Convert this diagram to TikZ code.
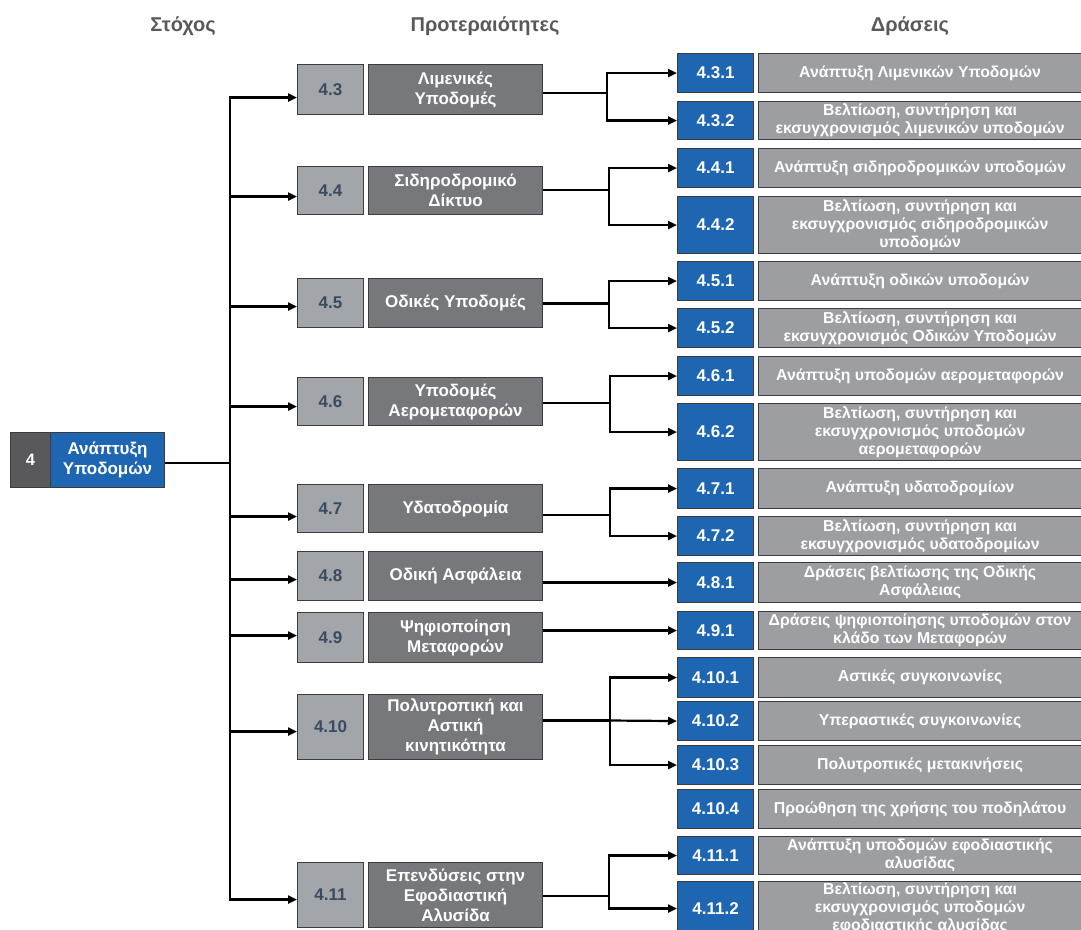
\documentclass[tikz,border=0pt]{standalone}
\usepackage{fontspec}
\setmainfont{Liberation Sans}
\usetikzlibrary{arrows.meta}
\definecolor{blu}{HTML}{1E66B2}
\definecolor{agray}{HTML}{9C9EA1}
\definecolor{pgray}{HTML}{77787B}
\definecolor{ngray}{HTML}{A2A5A9}
\definecolor{ntext}{HTML}{3B4B5F}
\definecolor{dgray}{HTML}{59595C}
\definecolor{bord}{HTML}{3C3C3C}
\definecolor{head}{HTML}{595959}
\tikzset{
  bx/.style={draw=bord, line width=1.1pt, inner sep=0pt, anchor=north west, align=center, text=white},
  gnum/.style={bx, fill=dgray, minimum width=40pt, minimum height=55pt, font=\bfseries\fontsize{16.5}{19}\selectfont},
  gtxt/.style={bx, fill=blu, minimum width=114pt, minimum height=55pt, font=\bfseries\fontsize{17}{20}\selectfont},
  pnum/.style={bx, fill=ngray, text=ntext, minimum width=66pt, font=\bfseries\fontsize{17}{19}\selectfont},
  ptxt/.style={bx, fill=pgray, minimum width=174pt, font=\bfseries\fontsize{17}{20}\selectfont},
  anum/.style={bx, fill=blu, minimum width=76pt, font=\bfseries\fontsize{17}{19}\selectfont},
  atxt/.style={bx, fill=agray, minimum width=323pt, font=\bfseries\fontsize{15.8}{18}\selectfont},
  hd/.style={text=head, font=\bfseries\fontsize{20}{24}\selectfont},
  ln/.style={line width=2.2pt, black},
  arr/.style={line width=2.2pt, black, -{Triangle[length=9pt,width=8pt]}},
}
\begin{document}
\begin{tikzpicture}[x=1pt,y=-1pt]
\clip (0,0) rectangle (1081,929);
\fill[white] (0,0) rectangle (1081,929);
% headers
\node[hd] (h1) at (183,26) {Στόχος};
\node[hd] (h2) at (485,26) {Προτεραιότητες};
\node[hd] (h3) at (910,26) {Δράσεις};
% goal
\node[gnum] (gn) at (10,432) {4};
\node[gtxt] (gt) at (50,432) {Ανάπτυξη\\Υποδομών};
% priorities
\node[pnum, minimum height=50pt] (p43n) at (297,64) {4.3};
\node[ptxt, minimum height=50pt] (p43t) at (368,64) {Λιμενικές\\Υποδομές};
\node[pnum, minimum height=48pt] (p44n) at (297,166) {4.4};
\node[ptxt, minimum height=48pt] (p44t) at (368,166) {Σιδηροδρομικό\\Δίκτυο};
\node[pnum, minimum height=49pt] (p45n) at (297,278) {4.5};
\node[ptxt, minimum height=49pt] (p45t) at (368,278) {Οδικές Υποδομές};
\node[pnum, minimum height=48pt] (p46n) at (297,377) {4.6};
\node[ptxt, minimum height=48pt] (p46t) at (368,377) {Υποδομές\\Αερομεταφορών};
\node[pnum, minimum height=48pt] (p47n) at (297,484) {4.7};
\node[ptxt, minimum height=48pt] (p47t) at (368,484) {Υδατοδρομία};
\node[pnum, minimum height=49pt] (p48n) at (297,551) {4.8};
\node[ptxt, minimum height=49pt] (p48t) at (368,551) {Οδική Ασφάλεια};
\node[pnum, minimum height=50pt] (p49n) at (297,612) {4.9};
\node[ptxt, minimum height=50pt] (p49t) at (368,612) {Ψηφιοποίηση\\Μεταφορών};
\node[pnum, minimum height=65pt] (p410n) at (297,694) {4.10};
\node[ptxt, minimum height=65pt] (p410t) at (368,694) {Πολυτροπική και\\Αστική\\κινητικότητα};
\node[pnum, minimum height=65pt] (p411n) at (297,862) {4.11};
\node[ptxt, minimum height=65pt] (p411t) at (368,862) {Επενδύσεις στην\\Εφοδιαστική\\Αλυσίδα};
% actions
\node[anum, minimum height=39pt] (a431n) at (677,53) {4.3.1};
\node[atxt, minimum height=39pt] (a431t) at (758,53) {Ανάπτυξη Λιμενικών Υποδομών};
\node[anum, minimum height=38pt] (a432n) at (677,101) {4.3.2};
\node[atxt, minimum height=38pt] (a432t) at (758,101) {Βελτίωση, συντήρηση και\\εκσυγχρονισμός λιμενικών υποδομών};
\node[anum, minimum height=39pt] (a441n) at (677,148) {4.4.1};
\node[atxt, minimum height=39pt] (a441t) at (758,148) {Ανάπτυξη σιδηροδρομικών υποδομών};
\node[anum, minimum height=57pt] (a442n) at (677,196) {4.4.2};
\node[atxt, minimum height=57pt] (a442t) at (758,196) {Βελτίωση, συντήρηση και\\εκσυγχρονισμός σιδηροδρομικών\\υποδομών};
\node[anum, minimum height=39pt] (a451n) at (677,261) {4.5.1};
\node[atxt, minimum height=39pt] (a451t) at (758,261) {Ανάπτυξη οδικών υποδομών};
\node[anum, minimum height=39pt] (a452n) at (677,308) {4.5.2};
\node[atxt, minimum height=39pt] (a452t) at (758,308) {Βελτίωση, συντήρηση και\\εκσυγχρονισμός Οδικών Υποδομών};
\node[anum, minimum height=39pt] (a461n) at (677,356) {4.6.1};
\node[atxt, minimum height=39pt] (a461t) at (758,356) {Ανάπτυξη υποδομών αερομεταφορών};
\node[anum, minimum height=57pt] (a462n) at (677,403) {4.6.2};
\node[atxt, minimum height=57pt] (a462t) at (758,403) {Βελτίωση, συντήρηση και\\εκσυγχρονισμός υποδομών\\αερομεταφορών};
\node[anum, minimum height=40pt] (a471n) at (677,468) {4.7.1};
\node[atxt, minimum height=40pt] (a471t) at (758,468) {Ανάπτυξη υδατοδρομίων};
\node[anum, minimum height=39pt] (a472n) at (677,516) {4.7.2};
\node[atxt, minimum height=39pt] (a472t) at (758,516) {Βελτίωση, συντήρηση και\\εκσυγχρονισμός υδατοδρομίων};
\node[anum, minimum height=40pt] (a481n) at (677,562) {4.8.1};
\node[atxt, minimum height=40pt] (a481t) at (758,562) {Δράσεις βελτίωσης της Οδικής\\Ασφάλειας};
\node[anum, minimum height=38pt] (a491n) at (677,611) {4.9.1};
\node[atxt, minimum height=38pt] (a491t) at (758,611) {Δράσεις ψηφιοποίησης υποδομών στον\\κλάδο των Μεταφορών};
\node[anum, minimum height=40pt] (a4101n) at (677,657) {4.10.1};
\node[atxt, minimum height=40pt] (a4101t) at (758,657) {Αστικές συγκοινωνίες};
\node[anum, minimum height=39pt] (a4102n) at (677,701) {4.10.2};
\node[atxt, minimum height=39pt] (a4102t) at (758,701) {Υπεραστικές συγκοινωνίες};
\node[anum, minimum height=39pt] (a4103n) at (677,745) {4.10.3};
\node[atxt, minimum height=39pt] (a4103t) at (758,745) {Πολυτροπικές μετακινήσεις};
\node[anum, minimum height=39pt] (a4104n) at (677,789) {4.10.4};
\node[atxt, minimum height=39pt] (a4104t) at (758,789) {Προώθηση της χρήσης του ποδηλάτου};
\node[anum, minimum height=38pt] (a4111n) at (677,836) {4.11.1};
\node[atxt, minimum height=38pt] (a4111t) at (758,836) {Ανάπτυξη υποδομών εφοδιαστικής\\αλυσίδας};
\node[anum, minimum height=54pt] (a4112n) at (677,881) {4.11.2};
\node[atxt, minimum height=54pt] (a4112t) at (758,881) {Βελτίωση, συντήρηση και\\εκσυγχρονισμός υποδομών\\εφοδιαστικής αλυσίδας};
% main trunk
\coordinate (mt) at (230,463);
\draw[ln] (gt.east |- mt) -- (mt);
\draw[arr] (mt) |- ([yshift=-8pt]p43n.west);
\draw[arr] (mt) |- ([yshift=-6pt]p44n.west);
\draw[arr] (mt) |- ([yshift=-3.5pt]p45n.west);
\draw[arr] (mt) |- ([yshift=-5pt]p46n.west);
\draw[arr] (mt) |- ([yshift=-8pt]p47n.west);
\draw[arr] (mt) |- ([yshift=-3.5pt]p48n.west);
\draw[arr] (mt) |- ([yshift=2pt]p49n.west);
\draw[arr] (mt) |- ([yshift=-4.5pt]p410n.west);
\draw[arr] (mt) |- ([yshift=-4.5pt]p411n.west);
% second-level trunks
\coordinate (t43) at (607,93);
\draw[ln] (p43t.east |- t43) -- (t43);
\draw[arr] (t43) |- (a431n.west);
\draw[arr] (t43) |- (a432n.west);
\coordinate (t44) at (609,190);
\draw[ln] (p44t.east |- t44) -- (t44);
\draw[arr] (t44) |- (a441n.west);
\draw[arr] (t44) |- (a442n.west);
\coordinate (t45) at (609,303);
\draw[ln, line width=3pt] (p45t.east |- t45) -- (t45);
\draw[arr] (t45) |- (a451n.west);
\draw[arr] (t45) |- (a452n.west);
\coordinate (t46) at (610,403);
\draw[ln] (p46t.east |- t46) -- (t46);
\draw[arr] (t46) |- (a461n.west);
\draw[arr] (t46) |- (a462n.west);
\coordinate (t47) at (610,515);
\draw[ln] (p47t.east |- t47) -- (t47);
\draw[arr] (t47) |- (a471n.west);
\draw[arr] (t47) |- (a472n.west);
\draw[arr] (p48t.east |- a481n.west) -- (a481n.west);
\draw[arr] (p49t.east |- a491n.west) -- (a491n.west);
\coordinate (t410) at (610,720.5);
\draw[ln] (p410t.east |- t410) -- (t410);
\draw[arr] (t410) |- (a4101n.west);
\draw[arr] (t410) -- (a4102n.west);
\draw[arr] (t410) |- (a4103n.west);
\coordinate (t411) at (609,896);
\draw[ln] (p411t.east |- t411) -- (t411);
\draw[arr] (t411) |- (a4111n.west);
\draw[arr] (t411) |- (a4112n.west);
\end{tikzpicture}
\end{document}
